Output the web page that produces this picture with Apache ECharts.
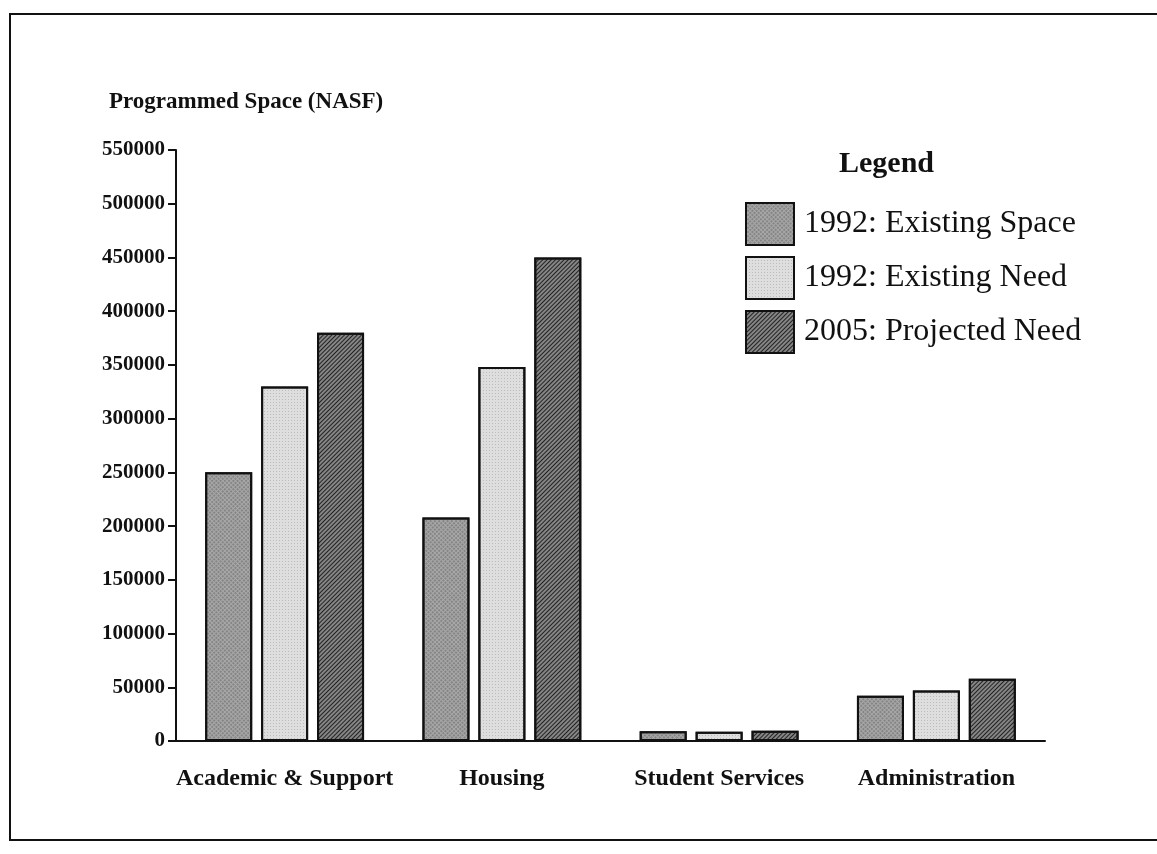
<!DOCTYPE html>
<html>
<head>
<meta charset="utf-8">
<script src="https://cdn.jsdelivr.net/npm/echarts@6/dist/echarts.min.js"></script>
<style>html,body{margin:0;padding:0;background:#fff}#c{width:1157px;height:854px}</style>
</head>
<body>
<div id="c"></div>
<script>
const categories = ['Academic & Support', 'Housing', 'Student Services', 'Administration'];
const seriesNames = ['1992: Existing Space', '1992: Existing Need', '2005: Projected Need'];
const existingSpace = [250000, 208000, 9000, 42000];
const existingNeed = [330000, 348000, 8500, 47000];
const projectedNeed = [380000, 450000, 9500, 58000];
const yTicks = [0, 50000, 100000, 150000, 200000, 250000, 300000, 350000, 400000, 450000, 500000, 550000];

const serif = '"Liberation Serif", "DejaVu Serif", serif';
const chart = echarts.init(document.getElementById('c'));

const styles = [
  { color: '#a8a8a8', decal: { symbol: 'rect', symbolSize: 0.6, color: '#333', dashArrayX: [[2, 1]], dashArrayY: [2, 1], rotation: Math.PI / 4 } },
  { color: '#dedede', decal: { symbol: 'rect', symbolSize: 0.5, color: '#5a5a5a', dashArrayX: [[1, 2]], dashArrayY: [1, 2], rotation: 0 } },
  { color: '#858585', decal: { symbol: 'rect', symbolSize: 1, color: '#222', dashArrayX: [[1, 0]], dashArrayY: [1, 2], rotation: -Math.PI / 4 } }
];
const dataSets = [existingSpace, existingNeed, projectedNeed];

chart.setOption({
  animation: false,
  backgroundColor: '#fff',
  title: [
    { text: 'Programmed Space (NASF)', left: 104, top: 86,
      textStyle: { fontFamily: serif, fontWeight: 'bold', fontSize: 23, color: '#111' } },
    { text: 'Legend', left: 834, top: 144,
      textStyle: { fontFamily: serif, fontWeight: 'bold', fontSize: 30, color: '#111' } }
  ],
  legend: {
    orient: 'vertical', left: 740, top: 197,
    icon: 'rect',
    itemWidth: 48, itemHeight: 42, itemGap: 10,
    textStyle: { fontFamily: serif, fontSize: 32, color: '#111', padding: [0, 0, 0, 5] },
    data: seriesNames
  },
  grid: { left: 176, right: 112, top: 150, bottom: 113, containLabel: false },
  xAxis: {
    type: 'category', data: categories,
    axisLine: { lineStyle: { color: '#111', width: 2 } },
    axisTick: { alignWithLabel: true, length: 7, lineStyle: { color: '#111', width: 2 } },
    axisLabel: { interval: 0, hideOverlap: false, margin: 26, fontFamily: serif, fontSize: 24, color: '#111', fontWeight: 'bold' },
    splitLine: { show: false }
  },
  yAxis: {
    type: 'value', min: yTicks[0], max: yTicks[yTicks.length - 1], interval: 50000,
    axisLine: { show: true, lineStyle: { color: '#111', width: 2 } },
    axisTick: { show: true, length: 8, lineStyle: { color: '#111', width: 2 } },
    axisLabel: { margin: 11, fontFamily: serif, fontWeight: 'bold', fontSize: 21, color: '#111',
      formatter: v => String(v) },
    splitLine: { show: false }
  },
  graphic: [
    { type: 'rect', shape: { x: 10, y: 14, width: 1170, height: 826 },
      style: { fill: 'none', stroke: '#111', lineWidth: 2 }, silent: true }
  ],
  series: dataSets.map((d, i) => ({
    name: seriesNames[i], type: 'bar', data: d,
    barWidth: 47, barGap: '19%',
    itemStyle: { color: styles[i].color, borderColor: '#111', borderWidth: 2, decal: styles[i].decal }
  }))
});
</script>
</body>
</html>
